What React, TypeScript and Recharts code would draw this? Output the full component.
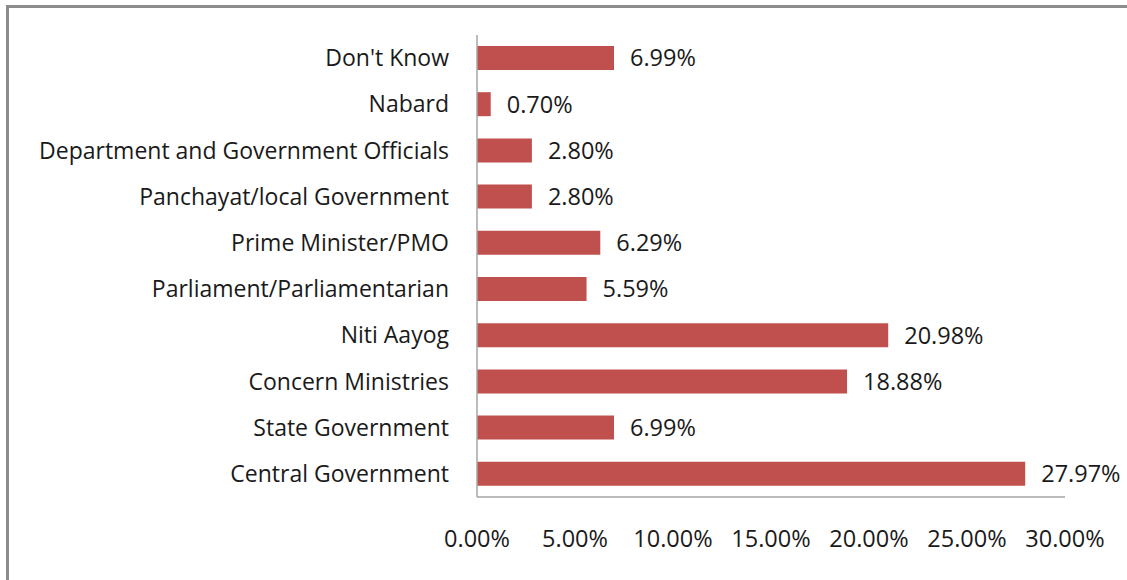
import React from "react";
import { BarChart, Bar, XAxis, YAxis, LabelList } from "recharts";

const categories = [
  "Don't Know",
  "Nabard",
  "Department and Government Officials",
  "Panchayat/local Government",
  "Prime Minister/PMO",
  "Parliament/Parliamentarian",
  "Niti Aayog",
  "Concern Ministries",
  "State Government",
  "Central Government",
];
const values = [6.99, 0.7, 2.8, 2.8, 6.29, 5.59, 20.98, 18.88, 6.99, 27.97];
const xTicks = [0, 5, 10, 15, 20, 25, 30];

const data = categories.map((name, i) => ({ name, value: values[i] }));

const FONT = "'Open Sans', sans-serif";

export default function App() {
  return (
    <div style={{ position: "absolute", left: 0, top: 0, width: 1127, height: 580, background: "#fff", fontFamily: FONT, overflow: "hidden" }}>
      <div
        style={{
          position: "absolute",
          left: 6,
          top: 5,
          width: 1130,
          height: 590,
          borderLeft: "3px solid #8c8c8c",
          borderTop: "3px solid #8c8c8c",
          boxSizing: "border-box",
        }}
      />
      <div style={{ position: "absolute", left: 0, top: 0 }}>
        <BarChart
          width={1127}
          height={580}
          data={data}
          layout="vertical"
          margin={{ top: 35, right: 62, bottom: 0, left: 0 }}
          barSize={24}
        >
          <XAxis
            type="number"
            domain={[0, 30]}
            ticks={xTicks}
            tickFormatter={(v: number) => v.toFixed(2) + "%"}
            axisLine={{ stroke: "#a6a6a6", strokeWidth: 1.5 }}
            tickLine={false}
            tickSize={0}
            tickMargin={33}
            height={83}
            interval={0}
            tick={{ fill: "#1a1a1a", fontSize: 23.5, fontFamily: FONT }}
          />
          <YAxis
            type="category"
            dataKey="name"
            width={477}
            axisLine={{ stroke: "#a6a6a6", strokeWidth: 1.5 }}
            tickLine={false}
            tickSize={0}
            tickMargin={28}
            interval={0}
            tick={{ fill: "#1a1a1a", fontSize: 23, fontFamily: FONT }}
          />
          <Bar dataKey="value" fill="#c0504d" isAnimationActive={false}>
            <LabelList
              dataKey="value"
              position="right"
              offset={16}
              formatter={(v: number) => v.toFixed(2) + "%"}
              style={{ fill: "#1a1a1a", fontSize: 23.5, fontFamily: FONT }}
            />
          </Bar>
        </BarChart>
      </div>
    </div>
  );
}
